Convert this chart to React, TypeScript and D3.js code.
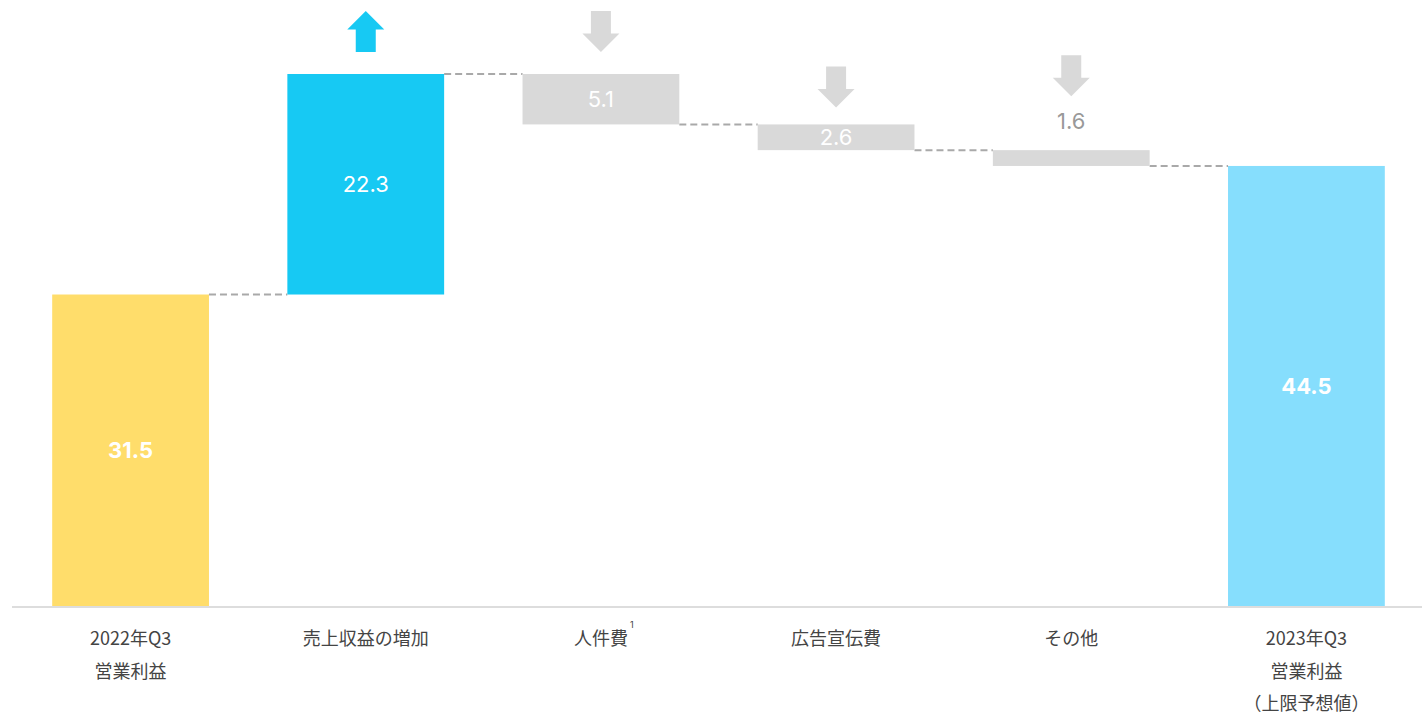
import React from "react";
import * as d3 from "d3";

const categoryLines: string[][] = [
  ["2022年Q3", "営業利益"],
  ["売上収益の増加"],
  ["人件費"],
  ["広告宣伝費"],
  ["その他"],
  ["2023年Q3", "営業利益", "（上限予想値）"],
];
const footnotes = ["", "", "1", "", "", ""];
const values = [31.5, 22.3, -5.1, -2.6, -1.6, 44.5];
const kinds = ["total", "increase", "decrease", "decrease", "decrease", "total"];

const W = 1422;
const H = 716;
const BASE_Y = 606;
const COLORS: Record<string, string> = {
  first: "#FFDD6B",
  increase: "#17C9F3",
  decrease: "#D9D9D9",
  last: "#86DEFD",
};
const ARROW_GAP = [0, 22, 22, 17, 0, 0];
const NUM_FONT = "Inter, 'Noto Sans', sans-serif";
const JP_FONT = "'Noto Sans CJK JP', 'Noto Sans', sans-serif";
const CAT_FONT_SIZE = 18;

export default function App() {
  let running = 0;
  const segs = values.map((v, i) => {
    let y0: number, y1: number;
    if (kinds[i] === "total") {
      y0 = 0;
      y1 = v;
      running = v;
    } else {
      y0 = running;
      y1 = running + v;
      running = y1;
    }
    return { i, v, y0, y1, lo: Math.min(y0, y1), hi: Math.max(y0, y1) };
  });
  const maxVal = d3.max(segs, (s) => s.hi) as number;

  const x = d3
    .scaleBand<number>()
    .domain(values.map((_, i) => i))
    .range([13, 1424])
    .paddingInner(1 / 3)
    .paddingOuter(1 / 6);
  const y = d3.scaleLinear().domain([0, maxVal]).range([BASE_Y, 74]);
  const bw = x.bandwidth();

  const colorFor = (i: number) => {
    if (kinds[i] === "total") return i === 0 ? COLORS.first : COLORS.last;
    return kinds[i] === "increase" ? COLORS.increase : COLORS.decrease;
  };

  const arrowPath = (cx: number, tipY: number, dir: "up" | "down") => {
    const hw = 18.5, hh = 18.5, sw = 10, total = 41;
    if (dir === "up") {
      const top = tipY;
      return `M${cx},${top} L${cx + hw},${top + hh} L${cx + sw},${top + hh} L${cx + sw},${top + total} L${cx - sw},${top + total} L${cx - sw},${top + hh} L${cx - hw},${top + hh} Z`;
    }
    const bot = tipY;
    return `M${cx},${bot} L${cx + hw},${bot - hh} L${cx + sw},${bot - hh} L${cx + sw},${bot - total} L${cx - sw},${bot - total} L${cx - sw},${bot - hh} L${cx - hw},${bot - hh} Z`;
  };

  return (
    <svg
      width={W}
      height={H}
      style={{ position: "absolute", left: 0, top: 0, display: "block", background: "#fff" }}
    >
      {segs.slice(0, -1).map((s, i) => {
        const level = y(s.y1);
        const x1 = (x(i) as number) + bw;
        const x2 = x(i + 1) as number;
        return (
          <line
            key={"c" + i}
            x1={x1}
            x2={x2}
            y1={level}
            y2={level}
            stroke="#A9A9A9"
            strokeWidth={2}
            strokeDasharray="7 4"
          />
        );
      })}
      {segs.map((s) => (
        <rect
          key={"b" + s.i}
          x={x(s.i)}
          y={y(s.hi)}
          width={bw}
          height={y(s.lo) - y(s.hi)}
          fill={colorFor(s.i)}
        />
      ))}
      <line x1={12} x2={1422} y1={BASE_Y + 1} y2={BASE_Y + 1} stroke="#DDDDDD" strokeWidth={2} />
      {segs.map((s) => {
        const cx = (x(s.i) as number) + bw / 2;
        const top = y(s.hi);
        const bot = y(s.lo);
        const h = bot - top;
        const isTotal = kinds[s.i] === "total";
        const inside = h > 20;
        const labelY = inside ? (top + bot) / 2 : top - 29;
        const label = Math.abs(s.v).toFixed(1);
        const arrowTip =
          kinds[s.i] === "increase"
            ? top - ARROW_GAP[s.i] - 41
            : inside
            ? top - ARROW_GAP[s.i]
            : labelY - 25;
        return (
          <g key={"l" + s.i}>
            <text
              x={cx}
              y={labelY}
              dy="0.36em"
              textAnchor="middle"
              fontFamily={NUM_FONT}
              fontSize={22}
              fontWeight={isTotal ? 700 : 400}
              fill={inside ? "#FFFFFF" : "#999999"}
            >
              {label}
            </text>
            {!isTotal && (
              <path
                d={arrowPath(cx, arrowTip, kinds[s.i] === "increase" ? "up" : "down")}
                fill={kinds[s.i] === "increase" ? COLORS.increase : COLORS.decrease}
              />
            )}
          </g>
        );
      })}
      {categoryLines.map((lines, i) => {
        const cx = (x(i) as number) + bw / 2;
        return (
          <g key={"t" + i}>
            {lines.map((ln, j) => (
              <text
                key={j}
                x={cx}
                y={645 + j * 32.5}
                textAnchor="middle"
                fontFamily={JP_FONT}
                fontSize={CAT_FONT_SIZE}
                fill="#444444"
              >
                {ln}
              </text>
            ))}
            {footnotes[i] && (
              <text
                x={cx + (lines[0].length * CAT_FONT_SIZE) / 2 + 2}
                y={628}
                fontFamily={NUM_FONT}
                fontSize={9}
                fill="#444444"
              >
                {footnotes[i]}
              </text>
            )}
          </g>
        );
      })}
    </svg>
  );
}
